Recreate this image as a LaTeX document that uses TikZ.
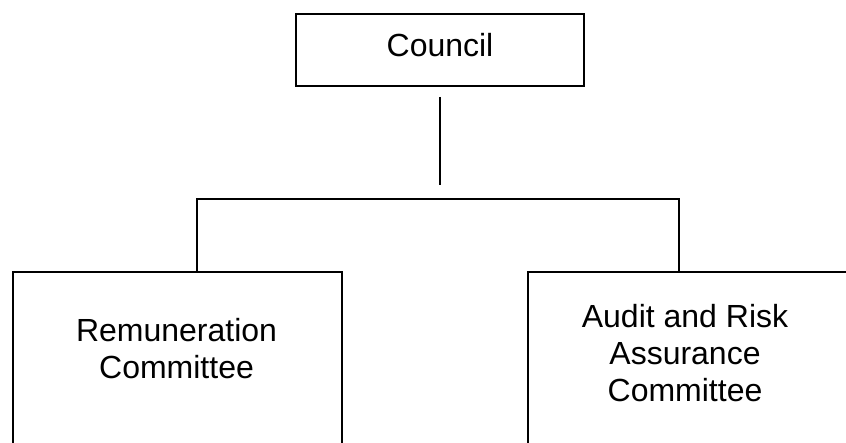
\documentclass[tikz,border=0pt]{standalone}
\usepackage{fontspec}
\setmainfont{Liberation Sans}

\begin{document}
\begin{tikzpicture}[x=0.5pt,y=-0.5pt,line width=1pt,
    box/.style={draw, rectangle, inner sep=0pt},
    boxtext/.style={inner sep=0pt, align=center, font=\fontsize{16pt}{18.5pt}\selectfont}]

  % Keep the frame at the size of the image and cut off what lies outside it
  \useasboundingbox (0,0) rectangle (846,443);
  \clip (0,0) rectangle (846,443);

  % The council box at the top
  \node[box, boxtext, minimum width=144pt, minimum height=36pt, text depth=5pt] (council) at (440,50) {Council};

  % The two committee boxes, running off the bottom of the image
  \node[box, anchor=north west, minimum width=164.5pt, minimum height=150pt] (remuneration) at (12,270.7) {};
  \node[box, anchor=north west, minimum width=200pt, minimum height=150pt] (audit) at (527,270.7) {};

  % Points of the connecting lines
  \coordinate (stemtop) at (440,97);
  \coordinate (stembottom) at (440,185);
  \coordinate (barleft) at (197,199);
  \coordinate (barright) at (679,199);

  % Draw the stem and the bar down to the committees
  \draw (stemtop) -- (stembottom);
  \draw (remuneration.north -| barleft) -- (barleft) -- (barright) -- (audit.north -| barright);

  % Add the names of the committees
  \node[boxtext, anchor=north] (remunerationtext) at (176.5,317) {Remuneration\\Committee};
  \node[boxtext, anchor=north] (audittext) at (685,303.3) {Audit and Risk\\Assurance\\Committee};

\end{tikzpicture}
\end{document}
